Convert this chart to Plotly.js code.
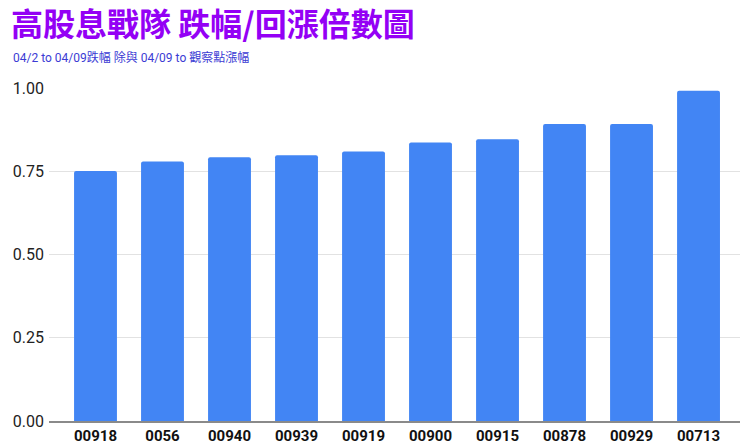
<!DOCTYPE html>
<html>
<head>
<meta charset="utf-8">
<script src="https://cdn.plot.ly/plotly-3.0.1.min.js"></script>
<style>
  html, body { margin: 0; padding: 0; background: #fff; }
  #chart { width: 740px; height: 446px; }
</style>
</head>
<body>
<div id="chart"></div>
<script>
// ETF codes and drop/rebound ratio
var codes = ['00918', '0056', '00940', '00939', '00919', '00900', '00915', '00878', '00929', '00713'];
var ratios = [0.751, 0.779, 0.792, 0.798, 0.809, 0.836, 0.846, 0.892, 0.892, 0.992];
var yTicks = [0, 0.25, 0.5, 0.75, 1.0];
var yTickText = ['0.00', '0.25', '0.50', '0.75', '1.00'];

var data = [{
    x: codes,
    y: ratios,
    type: 'bar',
    marker: { color: '#4285F4', cornerradius: 2 },
    hoverinfo: 'x+y'
}];

var layout = {
    width: 740,
    height: 446,
    paper_bgcolor: '#fff',
    plot_bgcolor: '#fff',
    showlegend: false,
    bargap: 0.36,
    margin: { l: 49, r: 0, t: 88, b: 25, pad: 0 },
    title: {
        text: '高股息戰隊 跌幅/回漲倍數圖',
        font: { family: 'Noto Sans CJK TC, Noto Sans, sans-serif', size: 32, color: '#9400F5', weight: 'bold' },
        xref: 'container',
        x: 0.015,
        xanchor: 'left',
        yref: 'container',
        y: 0.944,
        yanchor: 'middle'
    },
    annotations: [{
        text: '04/2 to 04/09跌幅 除與 04/09 to 觀察點漲幅',
        xref: 'paper', yref: 'paper',
        x: -0.055, y: 1.093,
        xanchor: 'left', yanchor: 'middle',
        showarrow: false,
        font: { family: 'Roboto, Noto Sans CJK TC, sans-serif', size: 12, color: '#3b3bd4' }
    }],
    xaxis: {
        type: 'category',
        range: [-0.694, 9.619],
        showgrid: false,
        showline: true,
        linecolor: '#8a8a8a',
        linewidth: 1.5,
        ticks: '',
        tickfont: { family: 'Roboto, sans-serif', size: 15, color: '#111', weight: 'bold' },
        fixedrange: true
    },
    yaxis: {
        range: [0, 1.0],
        tickvals: yTicks,
        ticktext: yTickText,
        showgrid: true,
        gridcolor: '#e2e2e2',
        gridwidth: 1,
        zeroline: false,
        showline: false,
        ticks: '',
        ticklabelstandoff: 4,
        tickfont: { family: 'Roboto, sans-serif', size: 16, color: '#222' },
        fixedrange: true
    }
};

Plotly.newPlot('chart', data, layout, { displayModeBar: false, staticPlot: true });
</script>
</body>
</html>
